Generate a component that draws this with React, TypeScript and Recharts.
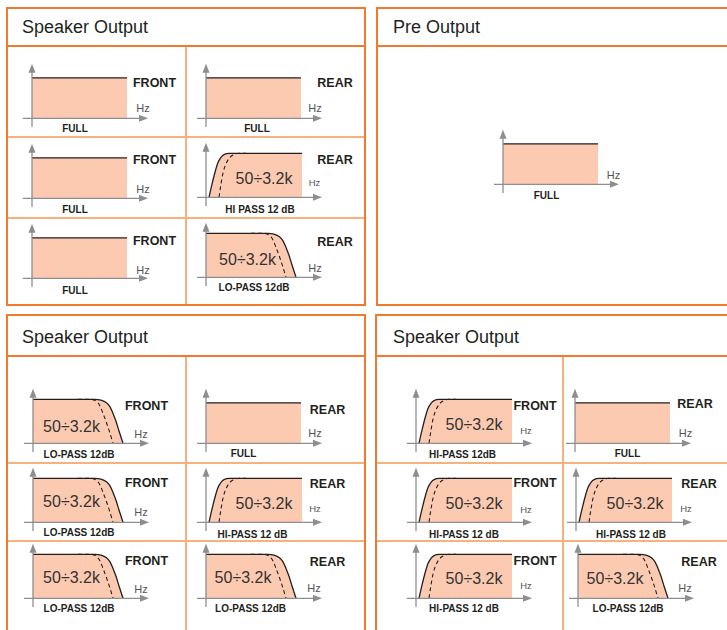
import React from 'react';
import { ComposedChart, Area, Line, XAxis, YAxis, ReferenceLine, ReferenceDot } from 'recharts';

// ---------- data ----------
const PANEL_TITLES = ['Speaker Output', 'Pre Output', 'Speaker Output', 'Speaker Output'];
const CHANNELS = ['FRONT', 'REAR'];
const FILTER_LABELS = ['FULL', 'HI PASS 12 dB', 'LO-PASS 12dB', 'HI-PASS 12 dB', 'HI-PASS 12dB'];
const BAND_TEXT = '50÷3.2k';
const AXIS_UNIT = 'Hz';

// full range response (relative frequency position, relative level)
const FULL_F = [0, 95];
const FULL_V = [0.92, 0.92];
// high pass 12 dB
const HP_SOLID_F = [3, 6, 9, 12, 15, 18, 23, 96];
const HP_SOLID_V = [0, 0.3, 0.57, 0.79, 0.91, 0.97, 1, 1];
const HP_DASH_F = [13, 15, 17, 20, 23, 27, 33, 40];
const HP_DASH_V = [0, 0.3, 0.55, 0.76, 0.88, 0.96, 1, 1];
// low pass 12 dB
const LP_SOLID_F = [0, 62, 68, 73, 77, 80, 83, 86, 90];
const LP_SOLID_V = [1, 1, 0.98, 0.93, 0.83, 0.68, 0.5, 0.28, 0];
const LP_DASH_F = [45, 58, 63, 67, 70, 73, 76, 80];
const LP_DASH_V = [1, 1, 0.96, 0.85, 0.68, 0.5, 0.3, 0];

function buildCurve(sf: number[], sv: number[], df: number[], dv: number[]) {
  const map = new Map<number, any>();
  sf.forEach((f, i) => map.set(f, { ...(map.get(f) || { f }), solid: sv[i] }));
  df.forEach((f, i) => map.set(f, { ...(map.get(f) || { f }), dashed: dv[i] }));
  return Array.from(map.values()).sort((a, b) => a.f - b.f);
}

const CURVES: Record<string, any[]> = {
  full: buildCurve(FULL_F, FULL_V, [], []),
  hp: buildCurve(HP_SOLID_F, HP_SOLID_V, HP_DASH_F, HP_DASH_V),
  lp: buildCurve(LP_SOLID_F, LP_SOLID_V, LP_DASH_F, LP_DASH_V),
};

// ---------- layout ----------
const FONT = '"Liberation Sans", Arial, Helvetica, sans-serif';
const ORANGE = '#f27a2c';
const ORANGE_LIGHT = '#f8b07c';
const FILL = '#fccab0';
const INK = '#231f20';
const AXIS = '#8e8e8e';

const PX_PER_LEVEL = 44;
const X_MIN = -10;
const X_MAX = 120;
const Y_MIN = -0.22;
const Y_MAX = 1.28;
const CW = X_MAX - X_MIN;
const CH = (Y_MAX - Y_MIN) * PX_PER_LEVEL;

const PANELS = [
  { l: 7, t: 8.3, r: 365, b: 305, header: 45.5, cols: [186], rows: [137, 218], tx: 22, ty: 27 },
  { l: 377, t: 8.3, r: 780, b: 305, header: 45.5, cols: [], rows: [], tx: 393, ty: 27 },
  { l: 7, t: 315, r: 365, b: 700, header: 356, cols: [186], rows: [463, 541], tx: 22, ty: 337 },
  { l: 376, t: 315, r: 780, b: 700, header: 356, cols: [563], rows: [463, 541], tx: 393, ty: 337 },
];

const GRAPHS: any[] = [
  { ox: 32, oy: 118, type: 'full', ch: 0, cx: 154.5, cy: 83, hx: 143, hy: 108, hs: 11, lbl: 0, lx: 75, ly: 129 },
  { ox: 206, oy: 118, type: 'full', ch: 1, cx: 335, cy: 83, hx: 315, hy: 108, hs: 11, lbl: 0, lx: 257, ly: 129 },
  { ox: 32, oy: 198, type: 'full', ch: 0, cx: 154.5, cy: 160, hx: 143, hy: 189, hs: 11, lbl: 0, lx: 75, ly: 210 },
  { ox: 206, oy: 197, type: 'hp', ch: 1, cx: 335, cy: 160, hx: 314.5, hy: 183, hs: 9.5, lbl: 1, lx: 260, ly: 210, tx: 264, ty: 179 },
  { ox: 32, oy: 278, type: 'full', ch: 0, cx: 154.5, cy: 241, hx: 143, hy: 270, hs: 11, lbl: 0, lx: 75, ly: 291 },
  { ox: 206, oy: 277, type: 'lp', ch: 1, cx: 335, cy: 242, hx: 315, hy: 268, hs: 11, lbl: 2, lx: 254, ly: 288, tx: 247.5, ty: 260 },
  { ox: 503, oy: 184, type: 'full', ch: -1, hx: 613.5, hy: 175, hs: 11, lbl: 0, lx: 546.5, ly: 196 },
  { ox: 33, oy: 443, type: 'lp', ch: 0, cx: 146.5, cy: 406, hx: 141, hy: 434, hs: 11, lbl: 2, lx: 79, ly: 455, tx: 71.5, ty: 427 },
  { ox: 206, oy: 443, type: 'full', ch: 1, cx: 327.5, cy: 410, hx: 315, hy: 433, hs: 11, lbl: 0, lx: 243.5, ly: 454 },
  { ox: 33, oy: 522, type: 'lp', ch: 0, cx: 146.5, cy: 483, hx: 141, hy: 512, hs: 11, lbl: 2, lx: 79, ly: 533, tx: 71.5, ty: 502 },
  { ox: 206, oy: 522, type: 'hp', ch: 1, cx: 327.5, cy: 484, hx: 315, hy: 509, hs: 9.5, lbl: 3, lx: 252.5, ly: 535, tx: 264, ty: 504 },
  { ox: 33, oy: 598, type: 'lp', ch: 0, cx: 146.5, cy: 561, hx: 141, hy: 589, hs: 11, lbl: 2, lx: 79, ly: 609, tx: 71.5, ty: 578 },
  { ox: 206, oy: 598, type: 'lp', ch: 1, cx: 327.5, cy: 562, hx: 314, hy: 588, hs: 11, lbl: 2, lx: 250.5, ly: 609, tx: 243, ty: 578 },
  { ox: 415.5, oy: 443, type: 'hp', ch: 0, cx: 535, cy: 406, hx: 526, hy: 431, hs: 9.5, lbl: 4, lx: 462.5, ly: 455, tx: 474, ty: 425 },
  { ox: 575, oy: 443, type: 'full', ch: 1, cx: 695, cy: 404, hx: 685.5, hy: 433, hs: 11, lbl: 0, lx: 627.5, ly: 454 },
  { ox: 416, oy: 522, type: 'hp', ch: 0, cx: 535, cy: 483, hx: 526, hy: 510, hs: 9.5, lbl: 3, lx: 464, ly: 535, tx: 474, ty: 504 },
  { ox: 576, oy: 522, type: 'hp', ch: 1, cx: 699, cy: 484, hx: 686, hy: 509, hs: 9.5, lbl: 3, lx: 631, ly: 535, tx: 635, ty: 504 },
  { ox: 416, oy: 598, type: 'hp', ch: 0, cx: 535, cy: 561, hx: 526, hy: 586, hs: 9.5, lbl: 3, lx: 464, ly: 609, tx: 474, ty: 579 },
  { ox: 578, oy: 598, type: 'lp', ch: 1, cx: 699, cy: 562, hx: 685, hy: 588, hs: 11, lbl: 2, lx: 628, ly: 609, tx: 615, ty: 579 },
];

const arrowRight = (p: any) => (
  <path d={`M${p.cx},${p.cy} L${p.cx - 9},${p.cy - 3.5} L${p.cx - 9},${p.cy + 3.5} Z`} fill={AXIS} />
);
const arrowUp = (p: any) => (
  <path d={`M${p.cx},${p.cy} L${p.cx - 3.5},${p.cy + 9} L${p.cx + 3.5},${p.cy + 9} Z`} fill={AXIS} />
);

function Txt({ x, y, children, size, weight = 400, color = INK, center = true }: any) {
  return (
    <div
      style={{
        position: 'absolute',
        left: x,
        top: y,
        transform: center ? 'translate(-50%, -50%)' : 'translate(0, -50%)',
        fontSize: size,
        fontWeight: weight,
        color,
        lineHeight: 1,
        whiteSpace: 'nowrap',
        fontFamily: FONT,
      }}
    >
      {children}
    </div>
  );
}

function MiniGraph({ g }: any) {
  const data = CURVES[g.type];
  return (
    <div style={{ position: 'absolute', left: g.ox + X_MIN, top: g.oy - Y_MAX * PX_PER_LEVEL }}>
      <ComposedChart width={CW} height={CH} data={data} margin={{ top: 0, right: 0, bottom: 0, left: 0 }}>
        <XAxis type="number" dataKey="f" domain={[X_MIN, X_MAX]} hide allowDataOverflow />
        <YAxis type="number" domain={[Y_MIN, Y_MAX]} hide allowDataOverflow />
        <Area
          type="monotone"
          dataKey="solid"
          stroke={INK}
          strokeWidth={1.3}
          fill={FILL}
          fillOpacity={1}
          baseValue={0}
          connectNulls
          dot={false}
          activeDot={false}
          isAnimationActive={false}
        />
        {g.type !== 'full' && (
          <Line
            type="monotone"
            dataKey="dashed"
            stroke={INK}
            strokeWidth={1.1}
            strokeDasharray="4 3"
            connectNulls
            dot={false}
            activeDot={false}
            isAnimationActive={false}
          />
        )}
        <ReferenceLine segment={[{ x: -9, y: 0 }, { x: 110, y: 0 }]} stroke={AXIS} strokeWidth={1.3} />
        <ReferenceLine segment={[{ x: 0, y: -0.2 }, { x: 0, y: 1.1 }]} stroke={AXIS} strokeWidth={1.3} />
        <ReferenceDot x={116} y={0} r={4} shape={arrowRight} />
        <ReferenceDot x={0} y={1.24} r={4} shape={arrowUp} />
      </ComposedChart>
    </div>
  );
}

function Panel({ p, title }: any) {
  const w = p.r - p.l;
  const h = p.b - p.t;
  return (
    <>
      <div
        style={{
          position: 'absolute',
          left: p.l - 1,
          top: p.t - 1,
          width: w + 2,
          height: h + 2,
          border: `2px solid ${ORANGE}`,
          boxSizing: 'border-box',
        }}
      />
      <div style={{ position: 'absolute', left: p.l, top: p.header - 1, width: w, height: 2, background: ORANGE }} />
      {p.cols.map((c: number, i: number) => (
        <div
          key={'c' + i}
          style={{ position: 'absolute', left: c - 1, top: p.header + 1, width: 2, height: p.b - p.header - 2, background: ORANGE_LIGHT }}
        />
      ))}
      {p.rows.map((r: number, i: number) => (
        <div
          key={'r' + i}
          style={{ position: 'absolute', left: p.l + 1, top: r - 1, width: w - 2, height: 2, background: ORANGE_LIGHT }}
        />
      ))}
      <Txt x={p.tx} y={p.ty} size={18} center={false}>
        {title}
      </Txt>
    </>
  );
}

export default function App() {
  return (
    <div
      style={{
        position: 'absolute',
        left: 0,
        top: 0,
        width: 727,
        height: 630,
        overflow: 'hidden',
        background: '#ffffff',
        fontFamily: FONT,
      }}
    >
      {PANELS.map((p, i) => (
        <Panel key={i} p={p} title={PANEL_TITLES[i]} />
      ))}
      {GRAPHS.map((g, i) => (
        <React.Fragment key={i}>
          <MiniGraph g={g} />
          {g.ch >= 0 && (
            <Txt x={g.cx} y={g.cy} size={12.5} weight={700}>
              {CHANNELS[g.ch]}
            </Txt>
          )}
          <Txt x={g.hx} y={g.hy} size={g.hs} color="#555555">
            {AXIS_UNIT}
          </Txt>
          <Txt x={g.lx} y={g.ly} size={10} weight={700}>
            {FILTER_LABELS[g.lbl]}
          </Txt>
          {g.type !== 'full' && (
            <Txt x={g.tx} y={g.ty} size={16} color="#333333">
              {BAND_TEXT}
            </Txt>
          )}
        </React.Fragment>
      ))}
    </div>
  );
}
